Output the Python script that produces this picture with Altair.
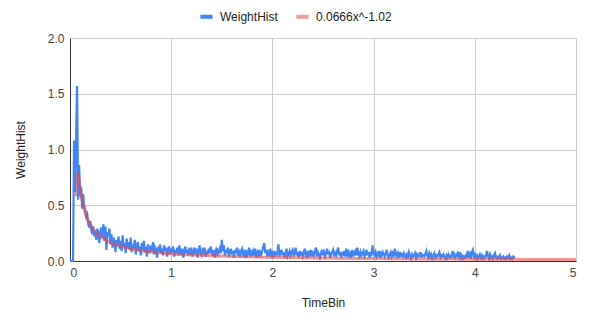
import altair as alt
import pandas as pd

# Blue series: WeightHist sampled every 0.01 of TimeBin starting at 0
weight_hist = [
    0, 0, 0, 0, 1.08, 0.62, 1.10, 1.57, 0.55, 0.86,
    0.58, 0.66, 0.47, 0.60, 0.50, 0.46, 0.40, 0.42, 0.33, 0.30,
    0.36, 0.28, 0.24, 0.31, 0.22, 0.27, 0.19, 0.29, 0.24, 0.16,
    0.27, 0.30, 0.21, 0.33, 0.18, 0.31, 0.10, 0.26, 0.22, 0.29,
    0.15, 0.24, 0.12, 0.21, 0.17, 0.08, 0.19, 0.14, 0.22, 0.11,
    0.18, 0.09, 0.23, 0.13, 0.16, 0.07, 0.20, 0.12, 0.17, 0.10,
    0.21, 0.08, 0.15, 0.11, 0.19, 0.06, 0.14, 0.17, 0.09, 0.13,
    0.05, 0.16, 0.10, 0.18, 0.08, 0.13, 0.04, 0.15, 0.11, 0.07,
    0.14, 0.09, 0.17, 0.06, 0.12, 0.10, 0.03, 0.13, 0.08, 0.15,
    0.07, 0.11, 0.05, 0.14, 0.09, 0.12, 0.04, 0.10, 0.13, 0.06,
    0.11, 0.08, 0.13, 0.04, 0.10, 0.07, 0.12, 0.05, 0.14, 0.09,
    0.06, 0.11, 0.03, 0.09, 0.13, 0.07, 0.10, 0.05, 0.12, 0.08,
    0.10, 0.04, 0.09, 0.12, 0.06, 0.11, 0.03, 0.08, 0.14, 0.07,
    0.05, 0.10, 0.08, 0.12, 0.04, 0.09, 0.06, 0.11, 0.07, 0.13,
    0.08, 0.05, 0.10, 0.03, 0.09, 0.12, 0.06, 0.08, 0.11, 0.07,
    0.19, 0.09, 0.14, 0.05, 0.10, 0.07, 0.12, 0.04, 0.08, 0.11,
    0.06, 0.09, 0.03, 0.10, 0.07, 0.12, 0.05, 0.08, 0.04, 0.09,
    0.11, 0.06, 0.08, 0.03, 0.10, 0.05, 0.07, 0.12, 0.04, 0.08,
    0.06, 0.09, 0.05, 0.11, 0.03, 0.07, 0.10, 0.04, 0.08, 0.06,
    0.09, 0.13, 0.16, 0.07, 0.10, 0.04, 0.08, 0.06, 0.11, 0.05,
    0.07, 0.03, 0.09, 0.06, 0.05, 0.08, 0.15, 0.04, 0.07, 0.10,
    0.05, 0.08, 0.03, 0.07, 0.11, 0.04, 0.06, 0.09, 0.05, 0.08,
    0.10, 0.04, 0.07, 0.12, 0.05, 0.08, 0.03, 0.09, 0.06, 0.07,
    0.04, 0.08, 0.11, 0.05, 0.07, 0.03, 0.09, 0.06, 0.10, 0.04,
    0.07, 0.05, 0.09, 0.12, 0.04, 0.08, 0.06, 0.03, 0.07, 0.10,
    0.05, 0.08, 0.04, 0.07, 0.11, 0.06, 0.09, 0.03, 0.06, 0.08,
    0.10, 0.04, 0.07, 0.05, 0.09, 0.12, 0.05, 0.08, 0.03, 0.07,
    0.06, 0.09, 0.04, 0.11, 0.06, 0.08, 0.03, 0.07, 0.05, 0.10,
    0.04, 0.07, 0.09, 0.05, 0.12, 0.06, 0.04, 0.08, 0.05, 0.07,
    0.09, 0.04, 0.06, 0.10, 0.05, 0.08, 0.03, 0.07, 0.06, 0.14,
    0.07, 0.05, 0.08, 0.04, 0.06, 0.09, 0.03, 0.07, 0.05, 0.08,
    0.06, 0.04, 0.07, 0.10, 0.05, 0.03, 0.06, 0.08, 0.04, 0.07,
    0.05, 0.11, 0.06, 0.04, 0.07, 0.03, 0.08, 0.05, 0.06, 0.04,
    0.07, 0.05, 0.03, 0.06, 0.04, 0.08, 0.05, 0.02, 0.06, 0.04,
    0.05, 0.07, 0.03, 0.06, 0.04, 0.05, 0.08, 0.03, 0.06, 0.05,
    0.04, 0.06, 0.09, 0.05, 0.03, 0.07, 0.04, 0.06, 0.02, 0.05,
    0.07, 0.03, 0.05, 0.04, 0.06, 0.08, 0.03, 0.05, 0.04, 0.06,
    0.04, 0.02, 0.05, 0.03, 0.06, 0.04, 0.03, 0.05, 0.09, 0.04,
    0.06, 0.03, 0.05, 0.07, 0.04, 0.08, 0.03, 0.05, 0.02, 0.04,
    0.03, 0.05, 0.04, 0.09, 0.03, 0.06, 0.02, 0.08, 0.10, 0.04,
    0.06, 0.03, 0.05, 0.02, 0.04, 0.06, 0.03, 0.05, 0.02, 0.04,
    0.03, 0.05, 0.09, 0.04, 0.02, 0.06, 0.03, 0.04, 0.02, 0.05,
    0.07, 0.03, 0.02, 0.04, 0.03, 0.05, 0.02, 0.03, 0.04, 0.02,
    0.03, 0.02, 0.04, 0.03, 0.05, 0.02, 0.03, 0.02, 0.04, 0.03,
    0.03,
]
time_bin = [round(i * 0.01, 2) for i in range(len(weight_hist))]

# Trendline
trend_x = [0.06, 0.075, 0.09, 0.10, 0.12, 0.15, 0.20, 0.25, 0.30, 0.40, 0.50,
           0.60, 0.70, 0.80, 1.00, 1.25, 1.50, 2.00, 2.50, 3.00, 3.50, 4.00, 4.50, 5.00]
trend_y = [0.58, 0.79, 0.73, 0.66, 0.55, 0.43, 0.33, 0.265, 0.22, 0.165, 0.132,
           0.11, 0.095, 0.083, 0.066, 0.053, 0.044, 0.033, 0.026, 0.022, 0.019, 0.016, 0.0145, 0.013]

series_names = ["WeightHist", "0.0666x^-1.02"]
legend_colors = ["#4285f4", "#f49a9a"]
trend_stroke = "#ea4a4a"

hist_df = pd.DataFrame({"TimeBin": time_bin, "WeightHist": weight_hist, "series": series_names[0]})
trend_df = pd.DataFrame({"TimeBin": trend_x, "WeightHist": trend_y, "series": series_names[1]})

FONT = "Liberation Sans"

color = alt.Color(
    "series:N",
    scale=alt.Scale(domain=series_names, range=legend_colors),
    legend=alt.Legend(
        title=None, orient="none", direction="horizontal",
        legendX=128, legendY=-30,
        symbolType="stroke", symbolStrokeWidth=4, symbolSize=150, symbolOpacity=1,
        labelFont=FONT, labelFontSize=12, labelColor="#222222",
        columnPadding=10, labelOffset=5,
    ),
)

x = alt.X("TimeBin:Q", scale=alt.Scale(domain=[0, 5], nice=False),
          axis=alt.Axis(title="TimeBin", values=[0, 1, 2, 3, 4, 5], format="d",
                        titlePadding=19))
y = alt.Y("WeightHist:Q", scale=alt.Scale(domain=[0, 2], nice=False),
          axis=alt.Axis(title="WeightHist", values=[0, 0.5, 1, 1.5, 2], format=".1f",
                        titlePadding=20))

hist = alt.Chart(hist_df).mark_line(strokeWidth=2.2, strokeJoin="miter").encode(
    x=x, y=y, color=color
)
trend = alt.Chart(trend_df).mark_line(strokeWidth=3, interpolate="monotone").encode(
    x=x, y=y, color=color, stroke=alt.value(trend_stroke), opacity=alt.value(0.6)
)

chart = alt.layer(hist, trend).properties(
    width=506, height=223,
    autosize=alt.AutoSizeParams(type="none"),
    padding={"left": 70, "top": 38, "right": 15, "bottom": 61},
    background="white",
).configure_view(stroke=None).configure_axis(
    labelFont=FONT, labelFontSize=12, labelColor="#444444",
    titleFont=FONT, titleFontSize=12, titleFontWeight="normal", titleColor="#222222",
    gridColor="#cccccc", ticks=False, domain=False, labelPadding=6,
).configure_axisX(
    domain=True, domainColor="#333333", labelPadding=6,
).configure_axisY(
    domain=True, domainColor="#333333",
)

chart.save("out.html", embed_options={"renderer": "svg", "actions": False})
